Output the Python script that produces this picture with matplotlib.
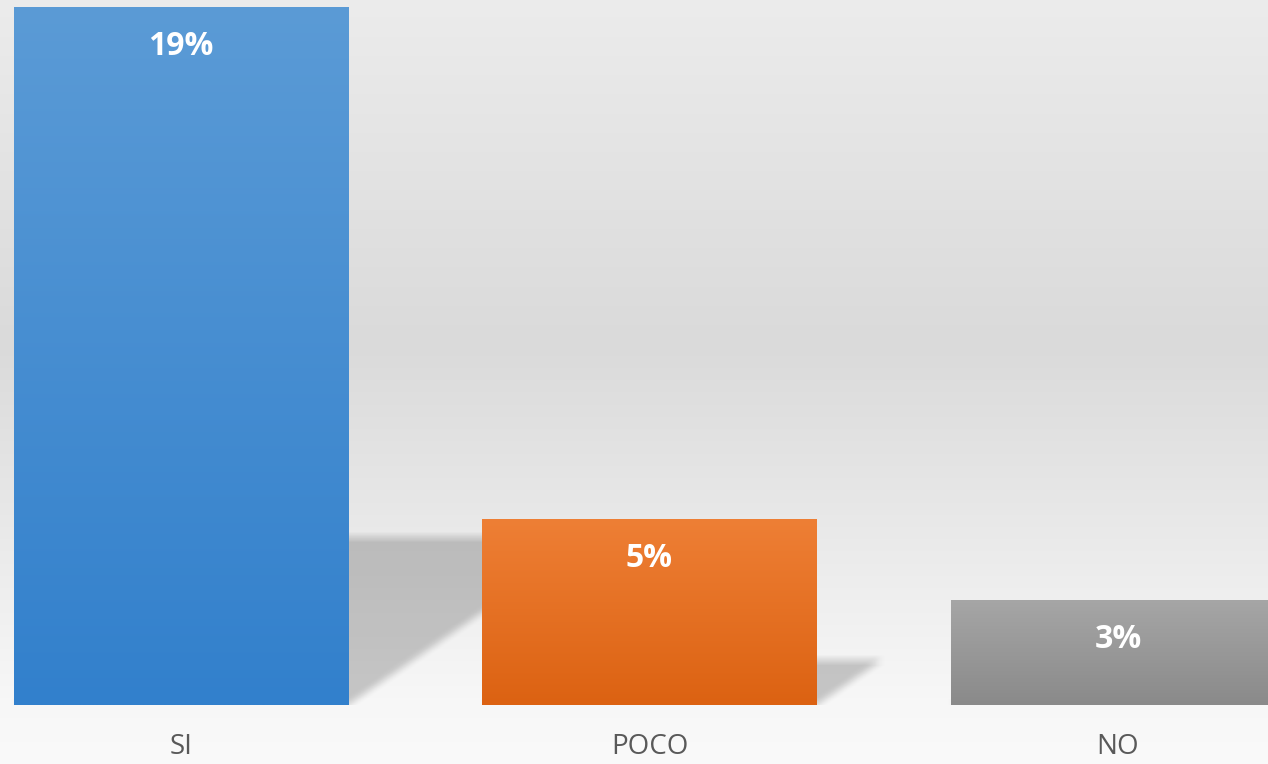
import numpy as np
import matplotlib
matplotlib.use("Agg")
import matplotlib.pyplot as plt
from matplotlib.colors import to_rgb
from matplotlib.path import Path

# Datos del gráfico
categorias = ["SI", "POCO", "NO"]
valores = [19.0, 5.06, 2.86]
colores_arriba = ["#5b9bd6", "#ee7f35", "#a6a6a6"]
colores_abajo = ["#3280cc", "#dc6212", "#8a8a8a"]

W, H, DPI = 1268, 764, 100
fig = plt.figure(figsize=(W / DPI, H / DPI), dpi=DPI)

# Fondo degradado (toda la figura)
bg = fig.add_axes([0, 0, 1, 1], zorder=-10)
bg.axis("off")
stops_y = [0.0, 0.45, 0.92, 1.0]
stops_c = [0.925, 0.855, 0.97, 0.98]
yy = np.linspace(0, 1, H)
g = np.interp(yy, stops_y, stops_c)
bg.imshow(np.repeat(g[:, None, None], 3, axis=2), aspect="auto",
          extent=[0, 1, 1, 0], interpolation="bilinear")
bg.set_xlim(0, 1)
bg.set_ylim(1, 0)

ax_bottom = 59 / H
ax = fig.add_axes([0, ax_bottom, 1, 1 - ax_bottom])
ax.set_facecolor("none")
for s in ax.spines.values():
    s.set_visible(False)

x = np.arange(len(categorias))
ancho = 0.713
xlim = (-0.386, 2.320)
ylim = (0, 19.19)

bars = ax.bar(x, valores, width=ancho, color="none", zorder=3)
ax.set_xlim(*xlim)
ax.set_ylim(*ylim)

# Sombras (en pixeles, difuminadas)
ax_w = W
ax_h = H - 59
px_x = ax_w / (xlim[1] - xlim[0])
px_y = ax_h / (ylim[1] - ylim[0])
mask = np.zeros((ax_h, ax_w))
cols, rows = np.meshgrid(np.arange(ax_w) + 0.5, np.arange(ax_h) + 0.5)
pts = np.column_stack([cols.ravel(), rows.ravel()])
for xi, v in zip(x, valores):
    left = (xi - ancho / 2 - xlim[0]) * px_x
    right = (xi + ancho / 2 - xlim[0]) * px_x
    sh = 0.24 * v * px_y
    shift = 1.45 * sh
    base = ax_h
    poly = Path([(left, base), (right, base), (right + shift, base - sh),
                 (left + shift, base - sh)])
    mask = np.maximum(mask, poly.contains_points(pts).reshape(ax_h, ax_w))


def box_blur(a, r):
    k = np.ones(2 * r + 1) / (2 * r + 1)
    a = np.apply_along_axis(lambda m: np.convolve(m, k, mode="same"), 0, a)
    a = np.apply_along_axis(lambda m: np.convolve(m, k, mode="same"), 1, a)
    return a


mask = box_blur(mask, 5)
sombra = np.zeros((ax_h, ax_w, 4))
sombra[..., 3] = mask * 0.2
ax.imshow(sombra, extent=[xlim[0], xlim[1], ylim[0], ylim[1]],
          aspect="auto", zorder=1, interpolation="nearest")

# Barras con degradado
for b, c1, c2 in zip(bars, colores_arriba, colores_abajo):
    t = np.linspace(0, 1, 256)[:, None]
    grad = (1 - t) * np.array(to_rgb(c1)) + t * np.array(to_rgb(c2))
    x0 = b.get_x()
    im = ax.imshow(grad[:, None, :].repeat(2, axis=1),
                   extent=[x0, x0 + b.get_width(), 0, b.get_height()],
                   aspect="auto", zorder=2, interpolation="bilinear")
    im.set_clip_path(b)

ax.set_xlim(*xlim)
ax.set_ylim(*ylim)

# Etiquetas de valor
for xi, v in zip(x, valores):
    ax.annotate(f"{v:.0f}%", (xi, v), xytext=(0, -34.5), textcoords="offset points",
                ha="center", va="baseline", color="white", fontsize=23,
                fontweight="bold", family="Open Sans", zorder=5)

ax.set_yticks([])
ax.set_xticks(x)
ax.set_xticklabels(categorias, fontsize=20, color="#595959", family="Open Sans")
ax.tick_params(axis="x", length=0, pad=20)

fig.savefig("out.png", dpi=DPI)
